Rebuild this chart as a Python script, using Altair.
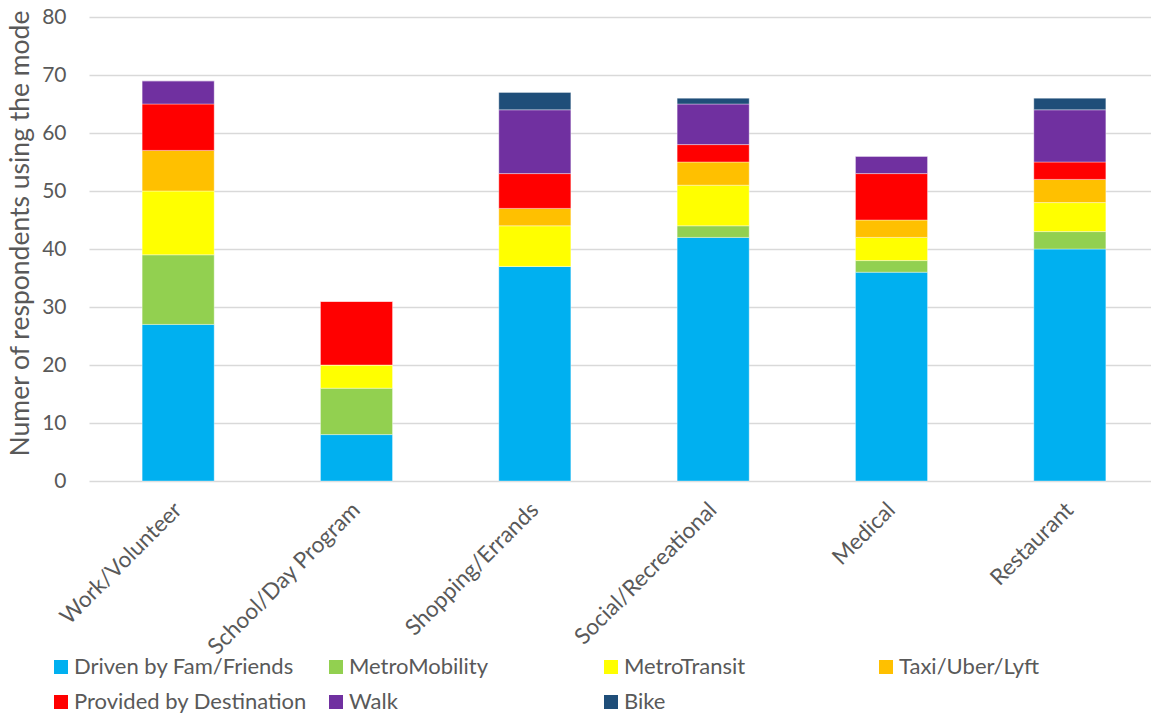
import altair as alt
import pandas as pd

# Trip purposes on the x axis
purposes = ["Work/Volunteer", "School/Day Program", "Shopping/Errands",
            "Social/Recreational", "Medical", "Restaurant"]

# Travel modes, bottom of the stack first
modes = ["Driven by Fam/Friends", "MetroMobility", "MetroTransit",
         "Taxi/Uber/Lyft", "Provided by Destination", "Walk", "Bike"]
mode_colors = ["#00B0F0", "#92D050", "#FFFF00", "#FFC000",
               "#FF0000", "#7030A0", "#1F4E79"]

# Respondent counts per mode, one value per purpose
driven = [27, 8, 37, 42, 36, 40]
metromobility = [12, 8, 0, 2, 2, 3]
metrotransit = [11, 4, 7, 7, 4, 5]
taxi = [7, 0, 3, 4, 3, 4]
provided = [8, 11, 6, 3, 8, 3]
walk = [4, 0, 11, 7, 3, 9]
bike = [0, 0, 3, 1, 0, 2]

series = [driven, metromobility, metrotransit, taxi, provided, walk, bike]

rows = []
for mi, (mode, vals) in enumerate(zip(modes, series)):
    for purpose, v in zip(purposes, vals):
        rows.append({"purpose": purpose, "mode": mode, "order": mi, "count": v})
df = pd.DataFrame(rows)

FONT = "Lato"
GRAY = "#595959"

chart = alt.Chart(df).mark_bar(stroke="white", strokeWidth=0.6, strokeOpacity=0.6).encode(
    x=alt.X("purpose:N", sort=purposes,
            scale=alt.Scale(range=[0, 1070], paddingInner=0.596, paddingOuter=0.298),
            axis=alt.Axis(title=None, labelAngle=-45, labelAlign="right",
                          labelBaseline="middle", labelPadding=25, ticks=False,
                          domain=False, labelFontSize=22.5, labelColor=GRAY,
                          labelFont=FONT, labelLimit=400)),
    y=alt.Y("count:Q", stack="zero",
            scale=alt.Scale(domain=[0, 80]),
            axis=alt.Axis(title="Numer of respondents using the mode",
                          values=list(range(0, 81, 10)), ticks=False, domain=False,
                          gridColor="#D9D9D9", gridWidth=1.3,
                          labelFontSize=21, labelColor=GRAY, labelFont=FONT,
                          labelPadding=23,
                          titleFontSize=26.5, titleColor=GRAY, titleFont=FONT,
                          titleFontWeight="normal", titlePadding=7,
                          titleY=216, titleAlign="center")),
    color=alt.Color("mode:N", sort=modes,
                    scale=alt.Scale(domain=modes, range=mode_colors),
                    legend=alt.Legend(title=None, orient="none", legendX=-39,
                                      legendY=639, direction="horizontal",
                                      columns=4, gridAlign="all",
                                      columnPadding=18, rowPadding=13,
                                      symbolType="square", symbolSize=196,
                                      symbolStrokeWidth=0, labelOffset=2,
                                      labelFontSize=22, labelColor=GRAY,
                                      labelFont=FONT, labelLimit=400)),
    order=alt.Order("order:Q", sort="ascending"),
).properties(
    width=1062, height=464,
    padding={"left": 89, "top": 17, "right": 0, "bottom": 238},
    autosize=alt.AutoSizeParams(type="none"),
).configure_view(
    strokeWidth=0
)

chart.save("out.html", embed_options={"renderer": "svg", "actions": False})
